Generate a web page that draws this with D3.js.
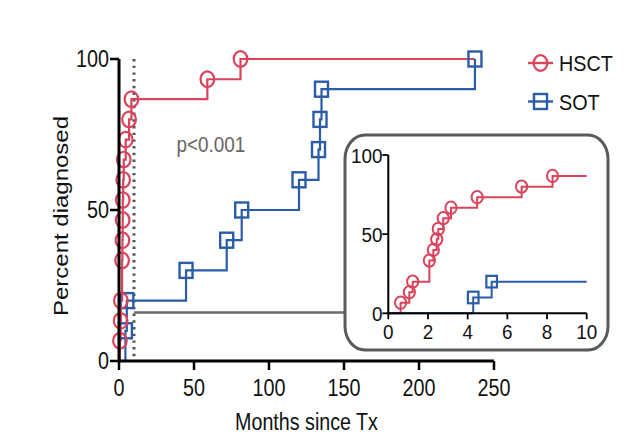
<!DOCTYPE html>
<html>
<head>
<meta charset="utf-8">
<script src="https://cdn.jsdelivr.net/npm/d3@7"></script>
<style>
html,body{margin:0;padding:0;background:#fff;}
svg{display:block;}
text{font-family:"Liberation Sans",Arial,sans-serif;}
</style>
</head>
<body>
<svg id="chart" width="643" height="435"></svg>
<script>
// ---- data ----
const seriesNames = ["HSCT", "SOT"];
const hsctMonths = [0.62, 1.06, 1.23, 2.07, 2.27, 2.44, 2.52, 2.77, 3.16, 4.48, 6.72, 8.28, 58.9, 81.0];
const hsctPercent = [6.7, 13.3, 20, 33.3, 40, 46.7, 53.3, 60, 66.7, 73.3, 80, 86.7, 93.3, 100];
const hsctEnd = 237;
const sotMonths = [4.28, 5.21, 44.7, 71.8, 81.8, 120, 133, 134, 135, 237.3];
const sotPercent = [10, 20, 30, 40, 50, 60, 70, 80, 90, 100];
const sotEnd = 237.3;
const mainXTicks = [0, 50, 100, 150, 200, 250];
const mainYTicks = [0, 50, 100];
const insetXTicks = [0, 2, 4, 6, 8, 10];
const insetYTicks = [0, 50, 100];
const cutoffMonth = 10;
const pLabel = "p<0.001";
const xTitle = "Months since Tx";
const yTitle = "Percent diagnosed";

const RED = "#d9435b", BLUE = "#2b5ca8";
const svg = d3.select("#chart");

function txt(g, x, y, s, size, sx, anchor, fill, rot) {
  return g.append("text")
    .attr("transform", `translate(${x},${y})` + (rot ? ` rotate(${rot}) scale(1,${sx})` : ` scale(${sx},1)`))
    .attr("font-size", size)
    .attr("text-anchor", anchor || "start")
    .attr("fill", fill || "#111")
    .text(s);
}

function steps(times, pcts, end, maxT) {
  const pts = [[0, 0]];
  times.forEach((t, i) => { if (t <= maxT) pts.push([t, pcts[i]]); });
  pts.push([end, pts[pts.length - 1][1]]);
  return pts;
}

// ---- main chart ----
const x = d3.scaleLinear().domain([0, 250]).range([119, 494]);
const y = d3.scaleLinear().domain([0, 100]).range([361, 59]);

svg.append("line").attr("x1", x(cutoffMonth)).attr("x2", x(cutoffMonth))
  .attr("y1", y(100)).attr("y2", y(0))
  .attr("stroke", "#555").attr("stroke-width", 3).attr("stroke-dasharray", "2.4,4.3");

svg.append("line").attr("x1", x(cutoffMonth)).attr("x2", 345)
  .attr("y1", 312.5).attr("y2", 312.5)
  .attr("stroke", "#6a6a6a").attr("stroke-width", 2.5);

const line = d3.line().x(d => x(d[0])).y(d => y(d[1])).curve(d3.curveStepAfter);
svg.append("path").datum(steps(hsctMonths, hsctPercent, hsctEnd, 1e9))
  .attr("d", line).attr("fill", "none").attr("stroke", RED).attr("stroke-width", 2.2);
svg.append("path").datum(steps(sotMonths, sotPercent, sotEnd, 1e9))
  .attr("d", line).attr("fill", "none").attr("stroke", BLUE).attr("stroke-width", 2.2);

svg.append("g").selectAll("rect").data(sotMonths.map((t, i) => [t, sotPercent[i]])).join("rect")
  .attr("x", d => x(d[0]) - 6.5).attr("y", d => y(d[1]) - 7.5).attr("width", 13).attr("height", 15)
  .attr("fill", "none").attr("stroke", BLUE).attr("stroke-width", 2.4);
svg.append("g").selectAll("ellipse").data(hsctMonths.map((t, i) => [t, hsctPercent[i]])).join("ellipse")
  .attr("cx", d => x(d[0])).attr("cy", d => y(d[1])).attr("rx", 6.8).attr("ry", 7.8)
  .attr("fill", "none").attr("stroke", RED).attr("stroke-width", 2.2);

const axG = svg.append("g");
axG.append("line").attr("x1", x(0)).attr("x2", x(250)).attr("y1", y(0)).attr("y2", y(0)).attr("stroke", "#000").attr("stroke-width", 3);
axG.append("line").attr("x1", x(0)).attr("x2", x(0)).attr("y1", y(0) + 1.5).attr("y2", y(100)).attr("stroke", "#000").attr("stroke-width", 3);
mainXTicks.forEach(v => {
  axG.append("line").attr("x1", x(v)).attr("x2", x(v)).attr("y1", y(0)).attr("y2", y(0) + 9).attr("stroke", "#000").attr("stroke-width", 2.5);
  txt(axG, x(v), 395.5, String(v), 23, 0.86, "middle");
});
mainYTicks.forEach(v => {
  axG.append("line").attr("x1", x(0) - 9).attr("x2", x(0)).attr("y1", y(v)).attr("y2", y(v)).attr("stroke", "#000").attr("stroke-width", 2.5);
  txt(axG, 109, y(v) + 8.3, String(v), 23, 0.86, "end");
});
txt(svg, 306.5, 429.5, xTitle, 24, 0.82, "middle");
txt(svg, 68, 216, yTitle, 24, 0.85, "middle", "#111", -90);
txt(svg, 176.5, 151.5, pLabel, 22, 0.86, "start", "#666");

const legY = [63, 101.5];
[[RED, "HSCT"], [BLUE, "SOT"]].forEach((d, i) => {
  svg.append("line").attr("x1", 528).attr("x2", 553).attr("y1", legY[i]).attr("y2", legY[i]).attr("stroke", d[0]).attr("stroke-width", 2.4);
  if (i === 0) svg.append("ellipse").attr("cx", 540.5).attr("cy", legY[i]).attr("rx", 6.8).attr("ry", 7.8).attr("fill", "none").attr("stroke", d[0]).attr("stroke-width", 2.2);
  else svg.append("rect").attr("x", 534).attr("y", legY[i] - 7.5).attr("width", 13).attr("height", 15).attr("fill", "none").attr("stroke", d[0]).attr("stroke-width", 2.4);
  txt(svg, 559, legY[i] + 8, seriesNames[i], 22, 0.9, "start");
});

// ---- inset ----
svg.append("rect").attr("x", 345).attr("y", 135).attr("width", 263).attr("height", 215)
  .attr("rx", 20).attr("ry", 24).attr("fill", "#fff").attr("stroke", "#5a5a5a").attr("stroke-width", 3);

const xi = d3.scaleLinear().domain([0, 10]).range([388.3, 586.7]);
const yi = d3.scaleLinear().domain([0, 100]).range([313.3, 155]);
const linei = d3.line().x(d => xi(d[0])).y(d => yi(d[1])).curve(d3.curveStepAfter);
svg.append("path").datum(steps(hsctMonths, hsctPercent, 10, 10))
  .attr("d", linei).attr("fill", "none").attr("stroke", RED).attr("stroke-width", 2);
svg.append("path").datum(steps(sotMonths, sotPercent, 10, 10))
  .attr("d", linei).attr("fill", "none").attr("stroke", BLUE).attr("stroke-width", 2);
svg.append("g").selectAll("rect").data(sotMonths.map((t, i) => [t, sotPercent[i]]).filter(d => d[0] <= 10)).join("rect")
  .attr("x", d => xi(d[0]) - 5.3).attr("y", d => yi(d[1]) - 5.8).attr("width", 10.6).attr("height", 11.6)
  .attr("fill", "none").attr("stroke", BLUE).attr("stroke-width", 2.2);
svg.append("g").selectAll("ellipse").data(hsctMonths.map((t, i) => [t, hsctPercent[i]]).filter(d => d[0] <= 10)).join("ellipse")
  .attr("cx", d => xi(d[0])).attr("cy", d => yi(d[1])).attr("rx", 5.6).attr("ry", 6.2)
  .attr("fill", "none").attr("stroke", RED).attr("stroke-width", 2);

const axI = svg.append("g");
axI.append("line").attr("x1", xi(0)).attr("x2", xi(10)).attr("y1", yi(0)).attr("y2", yi(0)).attr("stroke", "#000").attr("stroke-width", 2);
axI.append("line").attr("x1", xi(0)).attr("x2", xi(0)).attr("y1", yi(0) + 1).attr("y2", yi(100)).attr("stroke", "#000").attr("stroke-width", 2);
insetXTicks.forEach(v => {
  axI.append("line").attr("x1", xi(v)).attr("x2", xi(v)).attr("y1", yi(0)).attr("y2", yi(0) + 6).attr("stroke", "#000").attr("stroke-width", 1.8);
  txt(axI, xi(v), 338.5, String(v), 21, 0.9, "middle");
});
insetYTicks.forEach(v => {
  axI.append("line").attr("x1", xi(0) - 6).attr("x2", xi(0)).attr("y1", yi(v)).attr("y2", yi(v)).attr("stroke", "#000").attr("stroke-width", 1.8);
  txt(axI, 382.5, yi(v) + 7.5, String(v), 21, 0.9, "end");
});
</script>
</body>
</html>
